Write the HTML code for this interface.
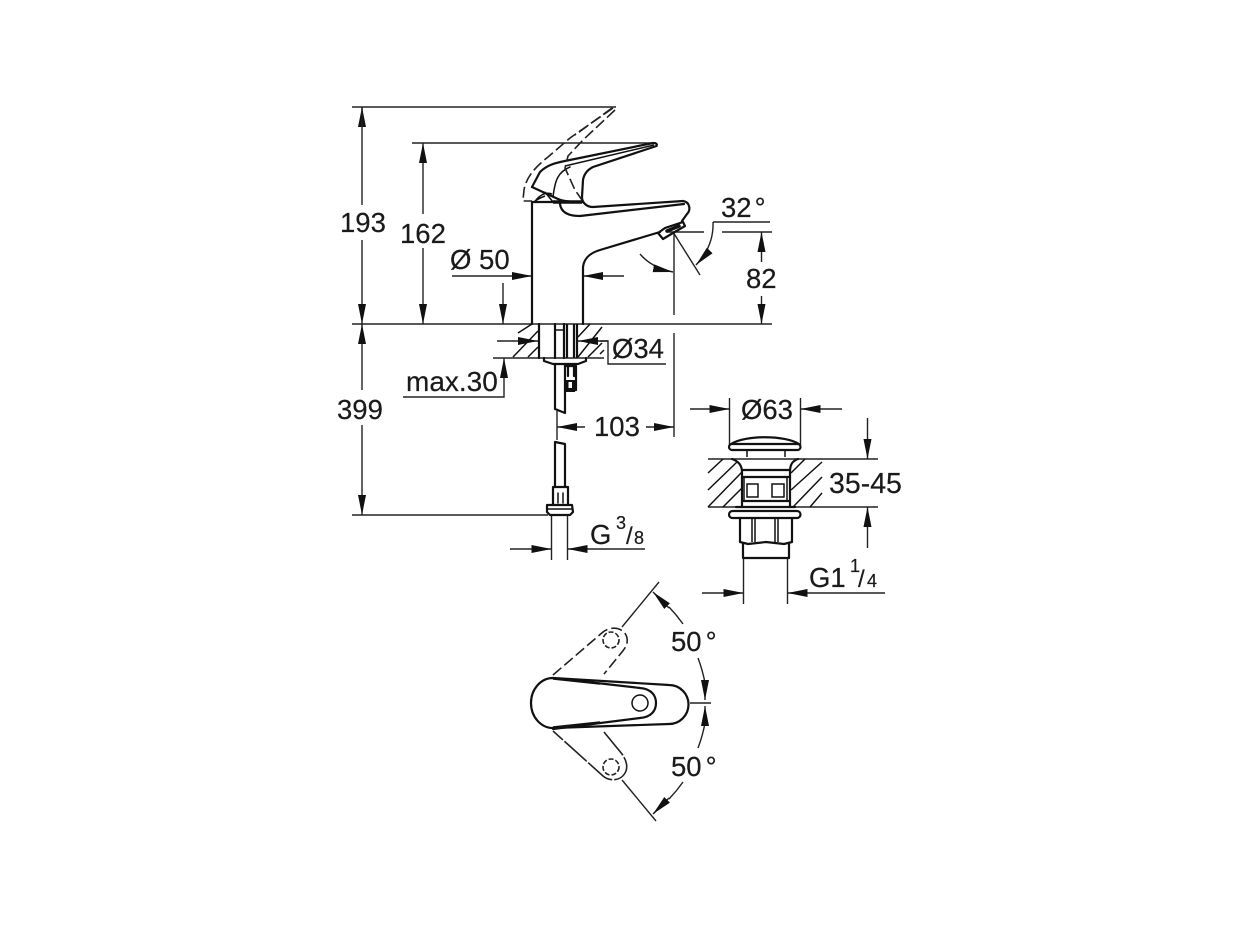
<!DOCTYPE html>
<html><head><meta charset="utf-8"><style>
html,body{margin:0;padding:0;background:#fff}
svg{display:block}
text{font-family:"Liberation Sans",sans-serif;font-size:27.5px;fill:#1a1a1a;stroke:#1a1a1a;stroke-width:.2}
.t{fill:none;stroke:#222;stroke-width:1.4}
.m{fill:none;stroke:#111;stroke-width:2.2;stroke-linejoin:round;stroke-linecap:round}
.k{fill:none;stroke:#111;stroke-width:1.5}
.d{fill:none;stroke:#222;stroke-width:1.6;stroke-dasharray:11 4}
</style></head><body>
<svg width="1238" height="928" viewBox="0 0 1238 928" xmlns="http://www.w3.org/2000/svg">
<defs>
<marker id="a" markerUnits="userSpaceOnUse" markerWidth="22" markerHeight="10" refX="20" refY="4" orient="auto"><path d="M0 0L20 4L0 8Z" fill="#111"/></marker>
<marker id="b" markerUnits="userSpaceOnUse" markerWidth="22" markerHeight="10" refX="20" refY="4" orient="auto-start-reverse"><path d="M0 0L20 4L0 8Z" fill="#111"/></marker>
</defs>

<!-- main dimension lines -->
<g class="t">
<path d="M352 107H616M412 143H656M352 324H772M352 515H548"/>
<path d="M362 127V107" marker-end="url(#a)"/><path d="M362 107V205"/>
<path d="M362 240V324" marker-end="url(#a)"/>
<path d="M362 324V390" marker-start="url(#b)"/>
<path d="M362 425V515" marker-end="url(#a)"/>
<path d="M423 214V143" marker-end="url(#a)"/>
<path d="M423 248V324" marker-end="url(#a)"/>
<path d="M452 276H532" marker-end="url(#a)"/>
<path d="M624 276H583" marker-end="url(#a)"/>
<path d="M503 283V324" marker-end="url(#a)"/>
<path d="M667 232H704M722 232H772M713 222H770"/>
<path d="M674 232V315M674 333V437"/>
<path d="M673 232L700 275"/>
<path d="M761.500 262V232" marker-end="url(#a)"/>
<path d="M761.500 296V324" marker-end="url(#a)"/>
<path d="M713 222Q714 246 696 265" marker-end="url(#a)"/>
<path d="M640 254Q652 268 673 272" marker-end="url(#a)"/>
<path d="M497 341H538" marker-end="url(#a)"/>
<path d="M608 341H578" marker-end="url(#a)"/>
<path d="M600 341H608V364H666"/>
<path d="M493 358H604"/>
<path d="M403 397H504V358" marker-end="url(#a)"/>
<path d="M557 411V440"/>
<path d="M585 427H557" marker-end="url(#a)"/>
<path d="M646 427H674" marker-end="url(#a)"/>
<path d="M551.500 515V560M567.500 515V560"/>
<path d="M510 549H551.500" marker-end="url(#a)"/>
<path d="M645 549H567.500" marker-end="url(#a)"/>
<path d="M729.500 398V445M800.500 398V445"/>
<path d="M690 409H729.500" marker-end="url(#a)"/>
<path d="M842 409H800.500" marker-end="url(#a)"/>
<path d="M708 459H878M708 507H878"/>
<path d="M867.500 418V459" marker-end="url(#a)"/>
<path d="M867.500 548V507" marker-end="url(#a)"/>
<path d="M743.500 558V604M787.500 558V604"/>
<path d="M702 593H743.500" marker-end="url(#a)"/>
<path d="M885 593H787.500" marker-end="url(#a)"/>
</g>

<!-- faucet side -->
<g class="m">
<path d="M532 324V202H583M583 324V267C584 258 590 253 600 250L660 232"/>
<path d="M532 187L540 172C547 165 555 163 565 161L653 143Q658 143 656.500 146L593 167C587 170 584 174 583 180L582 197C582 203 587 207 593 207L683 201C690 202 691 210 687 214L682 221"/>
<path d="M532 187L558 199Q564 202 582 202"/>
<path d="M560 204C561 212 568 216 580 216L684 204"/>
<path d="M658 233L665 228L683 222L685 226L673 233L663 239Z"/>
<path d="M570 167C558 172 555 180 553 197" stroke-width="1.500"/>
<path d="M667 231L679 226" stroke-width="3.500"/>
</g>
<path d="M553 202H582" stroke="#111" stroke-width="3.500"/>
<path d="M654 145L565 166" class="k"/>
<path d="M613 108L590 124L570 138L548 157C534 168 526 178 524 190L523 200V201H532" class="d"/>
<path d="M615 110L583 140L568 156L565 168L575 190L582 200" class="d"/>
<path d="M612 108L575 135" class="d"/>
<path d="M545 196C540 198 536 200 534 202M545 192L553 202M536 200C541 194 546 192 552 194" class="k"/>

<!-- base -->
<g class="k">
<path d="M518 333L532 324M513 357L538 331M528 357L538 347M578 337L590 324M578 357L602 327M588 357L602 343M600 354L604 350"/>
</g>
<g class="m">
<path d="M539 324V358M555 324V358M564 324V358"/>
<path d="M544 358V361L553 364H578L586 361V358"/>
<path d="M555 364V409L565 413V364"/>
<path d="M565 366H576V390H565M568 366V376M574 366V376"/>
<path d="M555 442L565 444V487M555 442V487"/>
<path d="M553 487H568V505H553ZM547 505H572L573 512L570 515H550L547 512Z"/>
<path d="M558 493V503M563 493V503M547 509H572" stroke-width="1.500"/>
</g>
<path d="M567 324V358M574 324V358M577 324V358" stroke="#111" stroke-width="2.200"/>
<path d="M555 330H564" stroke="#111" stroke-width="1.500"/>
<path d="M566 392V380H575V392Z" fill="#111"/>
<path d="M568.500 382H572V388H568.500Z" fill="#fff"/>

<!-- waste -->
<g class="k">
<path d="M708 473L723 459M708 490L737 462M708 507L742 472M723 507L742 488M791 473L805 459M791 490L822 462M793 507L822 477M810 507L822 493"/>
</g>
<g class="m">
<path d="M731 444C745 435 785 435 799 444"/>
<rect x="729" y="444" width="71.500" height="6" rx="3"/>
<path d="M732 459C738 461 742 465 742 472V507M798 459C792 461 790 465 790 472V507"/>
<path d="M742 470H790M742 477H790M742 501H790M736 507H795"/>
<rect x="729" y="511" width="71.500" height="7" rx="3.500"/>
<path d="M740 518V542L748 544L766 542L784 544L792 542V518"/>
<path d="M743 544V558H789V544"/>
</g>
<g class="k">
<path d="M747 484H758V497H747ZM772 484H784V497H772ZM747 450V457M785 450V457M752 518V542M755 518V542M775 518V542M778 518V542M744 477V501M787 477V501"/>
</g>

<!-- top view -->
<g class="m">
<path d="M553 678L669 685A19.500 19.500 0 0 1 669 724L553 728A22 25 0 0 1 553 678Z"/>
<path d="M553 678L640 688C652 689 656 696 656 703C656 710 652 717 640 718L553 729"/>
<circle cx="640" cy="703" r="8" stroke-width="1.500"/>
</g>
<g class="k">
<path d="M553 679L600 684M553 727L600 722"/>
</g>
<g class="d" stroke-dasharray="9 3">
<path d="M553 675L603 632C612 625 625 628 627 638C628 645 625 648 622 652L604 674"/>
<circle cx="611" cy="640" r="8" stroke-dasharray="5 2"/>
<path d="M604 732L622 754C626 760 628 765 626 771C622 781 610 782 603 776L553 731" stroke-dasharray="30 2"/>
<circle cx="611" cy="767" r="8" stroke-dasharray="5 2"/>
</g>
<g class="t">
<path d="M622 627L659 582M622 780L656 821M690 703H711"/>
<path d="M683 624A145 145 0 0 0 669 607"/>
<path d="M669 608L653 592" marker-end="url(#a)"/>
<path d="M698 658A145 145 0 0 1 705 683"/>
<path d="M705 680V700" marker-end="url(#a)"/>
<path d="M683 782A145 145 0 0 1 669 799"/>
<path d="M669 798L653 814" marker-end="url(#a)"/>
<path d="M698 748A145 145 0 0 0 705 723"/>
<path d="M705 726V706" marker-end="url(#a)"/>
</g>

<!-- text -->
<text x="340" y="232">193</text>
<text x="400" y="243">162</text>
<text x="450" y="269">Ø 50</text>
<text x="721" y="217">32<tspan dx="3">°</tspan></text>
<text x="746" y="288">82</text>
<text x="612" y="358">Ø34</text>
<text x="406" y="391" style="font-size:28px">max.30</text>
<text x="337" y="419">399</text>
<text x="594" y="436">103</text>
<text x="590" y="544">G</text>
<text x="616" y="529" style="font-size:18px">3</text>
<text x="626" y="544" style="font-size:24px">/</text>
<text x="634" y="544" style="font-size:18px">8</text>
<text x="741" y="419">Ø63</text>
<text x="829" y="493" style="font-size:28.500px">35-45</text>
<text x="809" y="587">G1</text>
<text x="850" y="572" style="font-size:18px">1</text>
<text x="858" y="587" style="font-size:24px">/</text>
<text x="867" y="587" style="font-size:18px">4</text>
<text x="671" y="651">50<tspan dx="4">°</tspan></text>
<text x="671" y="776">50<tspan dx="4">°</tspan></text>
</svg>
</body></html>
